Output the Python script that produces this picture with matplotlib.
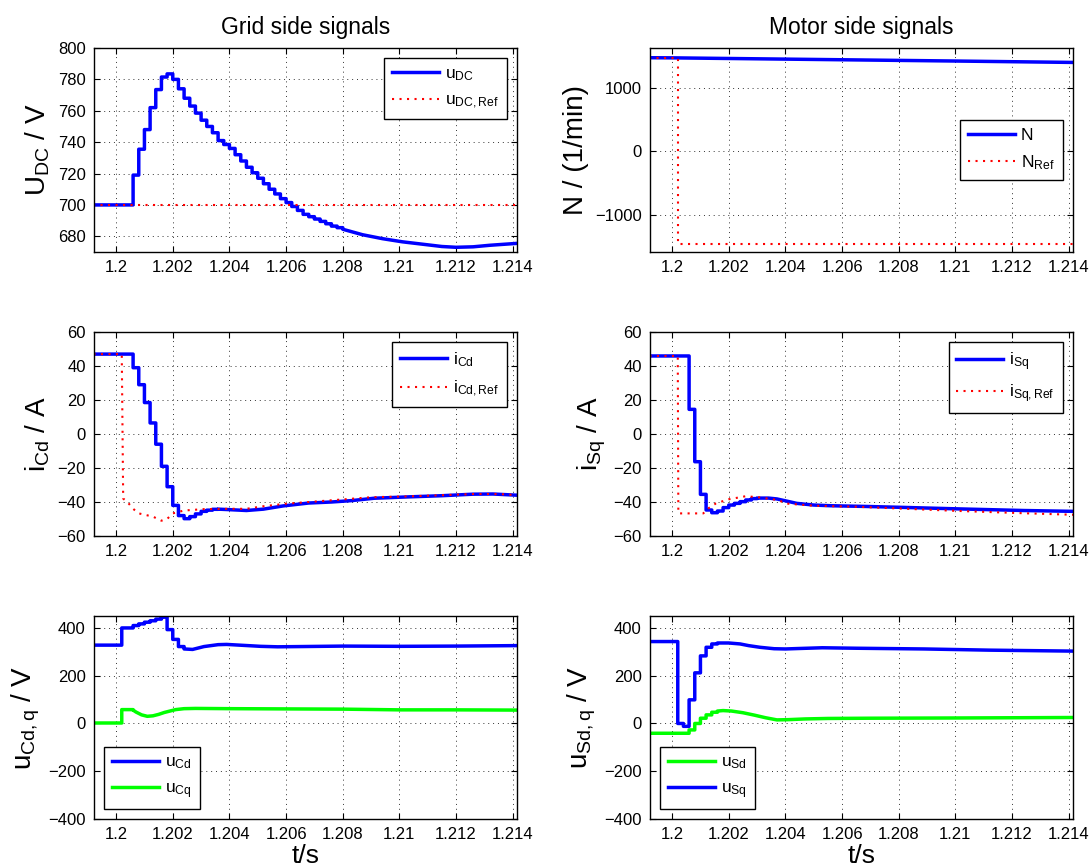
import numpy as np
import matplotlib.pyplot as plt

plt.rcParams['font.family'] = ['Liberation Sans', 'DejaVu Sans']
plt.rcParams['mathtext.fontset'] = 'custom'
plt.rcParams['mathtext.rm'] = 'Liberation Sans'
plt.rcParams['mathtext.it'] = 'Liberation Sans:italic'
plt.rcParams['mathtext.bf'] = 'Liberation Sans:bold'
plt.rcParams['font.size'] = 12

# ---------------------------------------------------------------- data
x_ticks = [1.2, 1.202, 1.204, 1.206, 1.208, 1.21, 1.212, 1.214]
x_tick_labels = ['1.2', '1.202', '1.204', '1.206', '1.208', '1.21', '1.212', '1.214']
t_start, t_end = 1.1992, 1.21415

# DC link voltage (staircase edges / values, then smooth tail)
udc_edges = [1.1992, 1.2006, 1.2008, 1.2010, 1.2012, 1.2014, 1.2016, 1.2018, 1.2020,
             1.2022, 1.2024, 1.2026, 1.2028, 1.2030, 1.2032, 1.2034, 1.2036, 1.2038,
             1.2040, 1.2042, 1.2044, 1.2046, 1.2048, 1.2050, 1.2052, 1.2054, 1.2056,
             1.2058, 1.2060, 1.2062, 1.2064, 1.2066, 1.2068, 1.2070, 1.2072, 1.2074,
             1.2076, 1.2078, 1.2080]
udc_steps = [700, 719, 735.5, 748, 762, 773.5, 781.5, 783.5, 780,
             774, 768, 763, 758.5, 754, 750, 746, 741, 738.5,
             736, 732, 728, 724, 720.5, 717, 713.5, 710, 707,
             704, 701.5, 699, 696.5, 694, 692.5, 691, 689.5, 688,
             686.5, 685.5]
udc_tail_t = [1.2080, 1.2087, 1.2094, 1.2101, 1.2108, 1.2115, 1.2120, 1.2126, 1.2132, 1.21415]
udc_tail_v = [684.5, 681, 678.5, 676.5, 675, 673.5, 673, 673.3, 674.3, 675.5]
udc_ref_t = [1.1992, 1.21415]
udc_ref_v = [700, 700]

# speed
n_t = [1.1992, 1.2, 1.205, 1.21, 1.21415]
n_v = [1472, 1470, 1445, 1420, 1398]
nref_edges = [1.1992, 1.2002, 1.21415]
nref_steps = [1470, -1455]

# grid side d current
icd_edges = [1.1992, 1.2006, 1.2008, 1.2010, 1.2012, 1.2014, 1.2016, 1.2018, 1.2020,
             1.2022, 1.2024, 1.2026, 1.2028, 1.2030, 1.2032, 1.2034, 1.2036]
icd_steps = [47, 39, 29, 18.5, 6.5, -6, -19, -31, -42, -48, -49.8, -48.6, -47, -45.5,
             -44.8, -44.3]
icd_tail_t = [1.2036, 1.2040, 1.2046, 1.2052, 1.2059, 1.2068, 1.2076, 1.2083, 1.2091,
              1.2103, 1.2115, 1.2126, 1.2133, 1.21415]
icd_tail_v = [-44.2, -44.5, -45, -44.2, -42.3, -40.6, -40, -39.2, -37.8, -37, -36.3,
              -35.4, -35.3, -36]
icd_ref_t = [1.1992, 1.2002, 1.20025, 1.2004, 1.2006, 1.2008, 1.2013, 1.2016, 1.2018,
             1.2020, 1.2024, 1.2031, 1.2040, 1.2046, 1.2052, 1.2060, 1.2068, 1.2080,
             1.2090, 1.2103, 1.2115, 1.2126, 1.2135, 1.21415]
icd_ref_v = [47, 47, -38, -40, -44, -46.7, -48.6, -51, -50, -46.7, -45, -44.2, -44,
             -44, -42.5, -41, -40, -38.5, -37.2, -36.7, -36, -35.3, -35.3, -36]

# motor side q current
isq_edges = [1.1992, 1.2006, 1.2008, 1.2010, 1.2012, 1.2014, 1.2016, 1.2018, 1.2020,
             1.2022, 1.2024, 1.2026, 1.2028, 1.2030]
isq_steps = [45.9, 14.5, -16.3, -35.5, -44.7, -46.3, -45.3, -43.3, -41.8, -40.8,
             -39.8, -38.8, -38]
isq_tail_t = [1.2030, 1.2034, 1.2037, 1.2040, 1.2044, 1.2050, 1.2056, 1.2068, 1.2080,
              1.2100, 1.2124, 1.21415]
isq_tail_v = [-37.7, -37.7, -38.2, -39.3, -40.8, -41.8, -42.2, -42.6, -43.1, -44, -45,
              -45.5]
isq_ref_t = [1.1992, 1.2002, 1.20022, 1.2011, 1.2013, 1.20155, 1.2020, 1.2026, 1.2031,
             1.2037, 1.2041, 1.2050, 1.2065, 1.2077, 1.2100, 1.2124, 1.21415]
isq_ref_v = [45.9, 45.9, -46.7, -46.7, -43.5, -40.8, -38.4, -36.6, -37.3, -38.8, -41,
             -42.2, -42.8, -43.6, -45.2, -46.6, -47.5]

# grid side voltages
ucd_edges = [1.1992, 1.2002, 1.2004, 1.2006, 1.2008, 1.2010, 1.2012, 1.2014, 1.2016,
             1.2018, 1.2020, 1.2022, 1.2024]
ucd_steps = [328, 400, 400, 410, 417, 424, 430, 437, 445, 393, 352, 322]
ucd_tail_t = [1.2024, 1.2027, 1.2031, 1.2036, 1.2039, 1.2045, 1.2051, 1.2057, 1.2065,
              1.2080, 1.2100, 1.2120, 1.21415]
ucd_tail_v = [312, 310, 322, 330, 331, 327, 323, 321, 322, 324, 323, 324, 326]
ucq_edges = [1.1992, 1.2002, 1.2006]
ucq_steps = [2, 58]
ucq_tail_t = [1.2006, 1.2007, 1.2009, 1.2011, 1.2013, 1.2015, 1.2017, 1.2019, 1.2021,
              1.2024, 1.2028, 1.2040, 1.2060, 1.2080, 1.2100, 1.2120, 1.21415]
ucq_tail_v = [56, 48, 36, 30, 32, 38, 46, 52, 58, 62, 63, 62, 61, 60, 57, 57, 56]

# motor side voltages
usq_edges = [1.1992, 1.2002, 1.2004, 1.2006, 1.2008, 1.2010, 1.2012, 1.2014, 1.2016]
usq_steps = [343, 0, -12, 99, 212, 283, 319, 333]
usq_tail_t = [1.2016, 1.2020, 1.2024, 1.2027, 1.2031, 1.2036, 1.2040, 1.2045, 1.2053,
              1.2065, 1.2089, 1.2112, 1.21415]
usq_tail_v = [337, 337, 333, 326, 319, 313, 312, 314, 317, 315, 312, 307, 303]
usd_edges = [1.1992, 1.2006, 1.2008, 1.2010, 1.2012, 1.2014, 1.2016]
usd_steps = [-41, -27, 0, 22, 36, 47]
usd_tail_t = [1.2016, 1.2018, 1.2021, 1.2025, 1.2029, 1.2033, 1.2037, 1.2041, 1.2047,
              1.2055, 1.2070, 1.2100, 1.21415]
usd_tail_v = [52, 54, 52, 45, 35, 24, 15, 16, 19, 21, 22, 23, 25]


def stairs(edges, vals, t_tail=(), v_tail=()):
    x = np.repeat(np.asarray(edges, float), 2)[1:-1]
    y = np.repeat(np.asarray(vals, float), 2)
    return np.concatenate([x, t_tail]), np.concatenate([y, v_tail])


BLUE, RED, GREEN = (0, 0, 1), (1, 0, 0), (0, 1, 0)
LW = 2.5
DOT = dict(color=RED, lw=1.5, ls=(0, (1.0, 2.6)))

fig = plt.figure(figsize=(10.89, 8.68), dpi=100)
W, H = 1089, 868


def make_ax(x0, y0, x1, y1):
    return fig.add_axes([x0 / W, 1 - y1 / H, (x1 - x0) / W, (y1 - y0) / H])


def style(ax, ylim, yticks, ylabel):
    ax.set_xlim(t_start + 0.00002, t_end)
    ax.set_ylim(*ylim)
    ax.set_xticks(x_ticks)
    ax.set_xticklabels(x_tick_labels)
    ax.set_yticks(yticks)
    ax.grid(True, ls=(0, (1, 4)), color='k', lw=0.7, alpha=0.8)
    ax.tick_params(direction='in', top=True, right=True, length=4, labelsize=12, pad=6)
    for s in ax.spines.values():
        s.set_linewidth(1.0)
    ax.set_ylabel(ylabel, fontsize=20, labelpad=4)


def legend(ax, loc, **kw):
    leg = ax.legend(loc=loc, fontsize=12.5, fancybox=False, edgecolor='k', framealpha=1,
                    handlelength=2.7, handletextpad=0.35, borderpad=0.45,
                    labelspacing=0.55, **kw)
    leg.get_frame().set_linewidth(1.0)


L, R = (94, 517), (650, 1073)
ROWS = [(48, 252), (332, 536), (616, 819)]

# top left: DC voltage
ax = make_ax(L[0], ROWS[0][0], L[1], ROWS[0][1])
ax.plot(*stairs(udc_edges, udc_steps, udc_tail_t, udc_tail_v), color=BLUE, lw=LW,
        label=r'u$_{\mathrm{DC}}$')
ax.plot(udc_ref_t, udc_ref_v, label=r'u$_{\mathrm{DC,Ref}}$', **DOT)
style(ax, (670, 800), range(680, 801, 20), r'U$_{\mathrm{DC}}$ / V')
legend(ax, 'upper right', borderaxespad=0.6)
ax.set_title('Grid side signals', fontsize=16.5, pad=10)

# top right: speed
ax = make_ax(R[0], ROWS[0][0], R[1], ROWS[0][1])
ax.plot(n_t, n_v, color=BLUE, lw=LW, label='N')
ax.plot(*stairs(nref_edges, nref_steps), label=r'N$_{\mathrm{Ref}}$', **DOT)
style(ax, (-1585, 1625), [-1000, 0, 1000], 'N / (1/min)')
legend(ax, 'center right', borderaxespad=0.6)
ax.set_title('Motor side signals', fontsize=16.5, pad=10)

# middle left: i_Cd
ax = make_ax(L[0], ROWS[1][0], L[1], ROWS[1][1])
ax.plot(*stairs(icd_edges, icd_steps, icd_tail_t, icd_tail_v), color=BLUE, lw=LW,
        label=r'i$_{\mathrm{Cd}}$')
ax.plot(icd_ref_t, icd_ref_v, label=r'i$_{\mathrm{Cd,Ref}}$', **DOT)
style(ax, (-60, 60), range(-60, 61, 20), r'i$_{\mathrm{Cd}}$ / A')
legend(ax, 'upper right', borderaxespad=0.6)

# middle right: i_Sq
ax = make_ax(R[0], ROWS[1][0], R[1], ROWS[1][1])
ax.plot(*stairs(isq_edges, isq_steps, isq_tail_t, isq_tail_v), color=BLUE, lw=LW,
        label=r'i$_{\mathrm{Sq}}$')
ax.plot(isq_ref_t, isq_ref_v, label=r'i$_{\mathrm{Sq,Ref}}$', **DOT)
style(ax, (-60, 60), range(-60, 61, 20), r'i$_{\mathrm{Sq}}$ / A')
legend(ax, 'upper right', borderaxespad=0.6)

# bottom left: u_Cd, u_Cq
ax = make_ax(L[0], ROWS[2][0], L[1], ROWS[2][1])
ax.plot(*stairs(ucd_edges, ucd_steps, ucd_tail_t, ucd_tail_v), color=BLUE, lw=LW,
        label=r'u$_{\mathrm{Cd}}$')
ax.plot(*stairs(ucq_edges, ucq_steps, ucq_tail_t, ucq_tail_v), color=GREEN, lw=LW,
        label=r'u$_{\mathrm{Cq}}$')
style(ax, (-400, 450), range(-400, 401, 200), r'u$_{\mathrm{Cd,q}}$ / V')
legend(ax, 'lower left', borderaxespad=0.6)
ax.set_xlabel('t/s', fontsize=19, labelpad=1)

# bottom right: u_Sd, u_Sq
ax = make_ax(R[0], ROWS[2][0], R[1], ROWS[2][1])
ax.plot(*stairs(usd_edges, usd_steps, usd_tail_t, usd_tail_v), color=GREEN, lw=LW,
        label=r'u$_{\mathrm{Sd}}$')
ax.plot(*stairs(usq_edges, usq_steps, usq_tail_t, usq_tail_v), color=BLUE, lw=LW,
        label=r'u$_{\mathrm{Sq}}$')
style(ax, (-400, 450), range(-400, 401, 200), r'u$_{\mathrm{Sd,q}}$ / V')
legend(ax, 'lower left', borderaxespad=0.6)
ax.set_xlabel('t/s', fontsize=19, labelpad=1)

fig.savefig('out.png', dpi=100)
